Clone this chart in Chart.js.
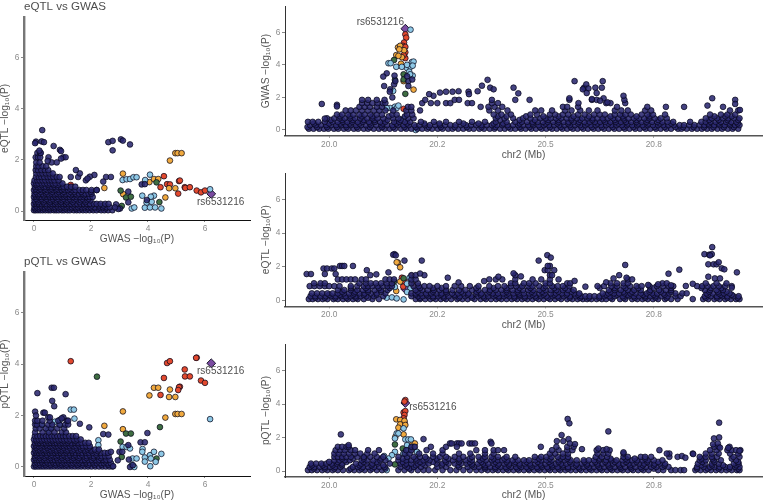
<!DOCTYPE html>
<html><head><meta charset="utf-8">
<script src="https://cdn.jsdelivr.net/npm/chart.js@4"></script>
<style>html,body{margin:0;padding:0;background:#fff;overflow:hidden}canvas{position:absolute}</style>
</head><body>
<canvas id="pA"></canvas><canvas id="pB"></canvas><canvas id="pC"></canvas><canvas id="pD"></canvas><canvas id="pE"></canvas>
<script>
// ---------- tick labels ----------
const scatterTicks=[0,2,4,6];
const yTicks=[0,2,4,6];
const posTicks=[20,20.25,20.5,20.75];
const posTickLabels=['20.0','20.2','20.5','20.8'];
const leadSnp='rs6531216';

// ---------- eQTL vs GWAS (x = GWAS, y = eQTL) ----------
// navy rows: [y, x, x, ...]
const aNavyRows=[
[.03,0,.06,.14,.22,.31,.4,.5,.58,.7,.78,.87,.98,1.06,1.17,1.26,1.4,1.5,1.6,1.72,1.83,1.95,2.08,2.2,2.36,2.47,2.6,2.75],
[.1,.04,.17,.35,.54,.73,.92,1.1,1.3,1.47,1.66,1.88,2.03,2.25,2.52],
[.15,.02,.1,.2,.28,.38,.47,.57,.66,.75,.85,.96,1.05,1.14,1.24,1.33,1.45,1.55,1.68,1.78,1.9,2.0,2.13,2.3,2.42,2.55,2.66],
[.22,.06,.24,.42,.6,.8,1.0,1.18,1.37,1.58,1.8,2.02,2.28,2.44],
[.28,0,.08,.17,.27,.36,.44,.55,.64,.74,.83,.93,1.02,1.12,1.22,1.31,1.42,1.52,1.63,1.75,1.86,1.97,2.1,2.2,2.34,2.5,2.62],
[.35,.05,.15,.33,.56,.77,.95,1.15,1.36,1.6,1.8],
[.42,.02,.12,.22,.3,.4,.5,.6,.7,.8,.9,1.0,1.1,1.2,1.3,1.42,1.53,1.65,1.77,1.88,1.98],
[.48,.07,.26,.44,.65,.84,1.04,1.25,1.47,1.7,1.92],
[.55,0,.08,.18,.26,.36,.46,.55,.66,.76,.86,.96,1.06,1.16,1.26,1.38,1.5,1.62,1.74,1.85,1.96,2.06],
[.62,.04,.15,.34,.52,.7,.9,1.08,1.3,1.52,1.76],
[.68,.02,.12,.2,.3,.42,.5,.62,.72,.82,.92,1.02,1.12,1.24,1.36,1.46,1.58,1.7,1.8,1.92,2.02],
[.75,.06,.24,.44,.64,.86,1.05,1.28,1.42,1.66,2.0],
[.82,0,.08,.17,.27,.37,.48,.58,.68,.78,.88,.98,1.08,1.2,1.34,1.46,1.6,1.72,1.84,2.02,2.2],
[.88,.05,.22,.4,.6,.8,1.02,1.25],
[.95,.03,.12,.22,.32,.42,.52,.62,.72,.84,.94,1.04,1.16,1.3,1.45],
[1.02,.07,.26,.5,.7,.85],
[1.08,0,.08,.16,.27,.36,.46,.56,.66,.76,.9,1.0],
[1.2,.02,.12,.2,.3,.4,.52,.62,.72,.86,1.82],
[1.33,.07,.17,.26,.36,.48,.58,.68,.8,.9,1.29,1.55,2.53,2.7],
[1.47,.08,.2,.3,.42,.54,.66,1.61],
[1.6,.06,.14,.26,.38,.5,1.47],
[1.75,.08,.16,.3,.43],
[1.9,.08,.2,.62,.8],
[2.1,.06,.14,.22,.51,1.03,1.11],
[2.27,.12,.21,.24]];
const aNavyExtra=[[.29,3.16],[.07,2.71],[.04,2.65],[.27,2.72],[.35,2.69],[.69,2.54],[.91,2.39],[.95,2.34],[.19,2.36],[.95,2.05],[.48,1.96],[2.61,2.69],[2.76,2.74],[2.76,2.37],[3.05,2.8],[3.12,2.75],[3.37,2.6],[2.12,1.41],[1.96,1.34],[1.88,1.27],[2.43,1.15],[3.31,.76],[3.31,.34],[3.02,.1],[2.96,.08],[2.2,.82],[3.78,1.04],[3.89,1.05],[3.96,.43],[2.88,.26],[2.84,.14]];
const aBlue=[[3.11,1.21],[3.25,1.24],[3.37,1.25],[3.49,1.32],[3.6,1.32],[3.9,1.21],[4.07,1.42],[3.8,.6],[3.95,.33],[4.13,.36],[4.21,.6],[4.1,.56],[3.89,.13],[4.07,.14],[4.25,.14],[4.47,.1],[3.43,.1],[3.52,.14],[6.18,.85],[2.29,.07],[1.38,.13],[.65,.07]];
const aGreen=[[3.04,.8],[3.23,.53],[3.4,.56],[3.08,.2],[4.3,1.12],[4.4,.35]];
const aOrange=[[3.12,1.46],[2.47,.9],[3.13,.66],[4.05,1.13],[4.21,1.25],[4.36,1.25],[4.96,2.26],[5.04,2.26],[5.18,2.26],[4.77,1.97],[4.74,.89],[4.96,.89],[4.61,.53]];
const aRed=[[1.29,1.02],[4.56,1.36],[4.44,.93],[4.67,1.05],[4.77,1.04],[5.09,1.17],[5.12,1.19],[5.29,.93],[5.31,.9],[5.47,.93],[5.06,.68],[5.71,.8],[5.86,.73],[6.0,.8]];
const aLead=[[6.22,.67]];

// ---------- pQTL vs GWAS ----------
const dNavyRows=[
[.02,0,.07,.16,.25,.34,.43,.53,.62,.72,.82,.92,1.02,1.12,1.22,1.33,1.44,1.55,1.66,1.78,1.9,2.02,2.15,2.28,2.4,2.52,2.64,2.75],
[.09,.05,.2,.4,.58,.76,.95,1.14,1.32,1.52,1.7,1.92,2.12,2.36,2.6],
[.15,.03,.12,.21,.3,.39,.48,.58,.68,.77,.87,.97,1.07,1.17,1.28,1.38,1.49,1.6,1.72,1.84,1.96,2.08,2.2,2.33,2.46,2.58,2.7],
[.22,.06,.26,.44,.64,.84,1.0,1.2,1.42,1.62,1.82,2.05,2.25,2.5],
[.28,0,.08,.17,.26,.35,.44,.54,.63,.73,.83,.93,1.03,1.13,1.23,1.34,1.45,1.56,1.67,1.79,1.91,2.03,2.16,2.29,2.42,2.54,2.66],
[.35,.04,.2,.38,.58,.8,.98,1.18,1.38,1.58,1.84,2.08,2.34],
[.42,.03,.12,.21,.3,.4,.49,.59,.68,.78,.88,.98,1.08,1.18,1.29,1.4,1.5,1.62,1.74,1.86,1.98,2.1,2.24,2.38,2.5,2.62],
[.48,.07,.25,.44,.62,.82,1.02,1.24,1.44,1.68,1.94,2.18],
[.55,0,.08,.17,.26,.36,.45,.55,.64,.74,.84,.94,1.04,1.14,1.25,1.36,1.47,1.58,1.7,1.82,1.94,2.06,2.2,2.34,2.48,2.6],
[.62,.05,.22,.41,.6,.78,.96,1.16,1.34,1.56,1.78,2.0,2.24],
[.68,.03,.12,.21,.31,.4,.5,.6,.7,.8,.9,1.0,1.1,1.2,1.31,1.42,1.53,1.65,1.77,1.89,2.0,2.14,2.28],
[.75,.07,.24,.46,.66,.86,1.04,1.26,1.48,1.7,1.93],
[.81,0,.08,.17,.26,.36,.46,.56,.65,.75,.85,.95,1.05,1.15,1.26,1.38,1.49,1.6,1.72,1.84,1.96],
[.88,.05,.27,.44,.68,.88,1.08,1.3,1.54],
[.94,.03,.12,.21,.31,.41,.5,.6,.7,.8,.9,1.0,1.1,1.2,1.32,1.44,1.55,1.67,1.8,1.92],
[1.01,.08,.25,.46,.64,.85,1.04,1.22,1.45],
[1.07,0,.08,.17,.27,.36,.46,.56,.66,.76,.86,.96,1.06,1.16,1.28,1.4,1.52,1.64],
[1.2,.03,.12,.22,.32,.42,.52,.62,.72,.82,.92,1.02,1.12,1.24,1.36,1.48],
[1.35,.04,.3,.52,.72,.98,1.12],
[1.5,.06,.2,.42,.6,.82,1.06],
[1.65,.04,.1,.28,.5,.64,.9,1.1,1.2],
[1.8,.04,.12,.3,.55,.85,1.15,1.2]];
const dNavyExtra=[[.12,2.87],[.62,3.08],[.7,3.08],[1.11,2.83],[.64,2.57],[.71,2.36],[.04,2.15],[.07,2.0],[.33,2.11],[.38,2.11],[.5,1.93],[.56,1.93],[1.03,1.93],[.97,1.89],[1.61,1.68],[1.94,1.54],[2.43,1.28],[2.61,1.26],[3.98,1.32],[3.74,.96],[3.89,.96],[3.31,.85],[3.0,.59],[3.1,.59],[2.7,.59],[2.94,.26],[3.33,.29],[3.37,0],[3.47,.07],[2.78,.03]];
const dBlue=[[1.29,2.23],[1.4,2.23],[1.42,1.88],[6.18,1.86],[.91,1.83],[.73,1.76],[.27,1.63],[.5,1.43],[.62,1.56],[.91,1.63],[2.26,1.04],[2.26,.85],[3.11,.78],[3.25,.78],[3.37,.72],[3.81,.7],[3.8,.59],[3.89,.37],[3.89,.21],[4.07,.46],[4.1,.33],[4.21,.59],[4.27,.2],[4.08,.03],[4.47,.51],[3.46,.33],[3.6,.33],[3.43,.07],[3.52,0]];
const dGreen=[[2.21,3.51],[3.04,.99],[3.23,1.3],[3.4,1.3],[4.42,1.55],[3.08,.39],[4.3,.33]];
const dOrange=[[3.12,2.16],[2.47,1.6],[3.12,1.47],[4.05,2.78],[4.21,3.08],[4.36,3.08],[4.77,3.01],[4.74,2.72],[4.96,2.72],[4.61,1.92],[4.96,2.06],[5.04,2.06],[5.18,2.06]];
const dRed=[[1.29,4.11],[4.67,4.04],[4.77,4.11],[5.71,4.25],[5.69,4.24],[5.29,3.79],[5.3,3.52],[5.47,3.52],[4.56,3.46],[5.86,3.36],[6.0,3.27],[5.12,3.12],[5.09,3.1],[5.06,2.99],[4.44,2.8]];
const dLead=[[6.22,4.03]];

// ---------- GWAS along chr2 (Mb) ----------
const bNavyRows=[
[.08,19.953,19.964,19.977,19.988,19.998,20.011,20.021,20.034,20.044,20.057,20.067,20.08,20.09,20.103,20.115,20.128,20.14,20.152,20.166,20.178,20.19,20.204,20.215,20.227,20.238,20.251,20.262,20.275,20.285,20.298,20.31,20.323,20.334,20.347,20.358,20.371,20.382,20.395,20.406,20.419,20.43,20.443,20.454,20.467,20.478,20.491,20.502,20.515,20.526,20.539,20.55,20.563,20.574,20.587,20.598,20.611,20.622,20.635,20.646,20.659,20.67,20.683,20.694,20.707,20.718,20.731,20.742,20.755,20.766,20.779,20.79,20.806,20.814,20.826,20.838,20.85,20.861,20.873,20.884,20.897,20.908,20.921,20.932,20.945],
[.18,19.95,19.972,19.995,20.018,20.04,20.064,20.094,20.122,20.148,20.174,20.2,20.23,20.258,20.29,20.318,20.352,20.384,20.414,20.44,20.463,20.487,20.51,20.535,20.558,20.583,20.607,20.63,20.655,20.68,20.703,20.727,20.752,20.775,20.8,20.818,20.842,20.866,20.888,20.912,20.935],
[.3,19.956,19.969,19.981,19.993,20.005,20.016,20.028,20.039,20.05,20.062,20.074,20.085,20.097,20.109,20.121,20.134,20.146,20.159,20.172,20.184,20.197,20.209,20.221,20.233,20.245,20.256,20.268,20.28,20.292,20.304,20.316,20.328,20.34,20.352,20.364,20.376,20.388,20.4,20.412,20.425,20.437,20.449,20.46,20.472,20.484,20.496,20.508,20.52,20.532,20.544,20.556,20.568,20.58,20.592,20.604,20.616,20.628,20.64,20.652,20.664,20.676,20.688,20.7,20.712,20.724,20.736,20.748,20.76,20.772,20.784,20.796,20.81,20.82,20.832,20.844,20.856,20.867,20.878,20.89,20.902,20.914,20.926,20.938,20.948],
[.4,19.965,20.0,20.026,20.048,20.07,20.094,20.124,20.156,20.18,20.22,20.255,20.31,20.345,20.38,20.402,20.44,20.47,20.5,20.527,20.552,20.575,20.596,20.62,20.645,20.668,20.69,20.714,20.738,20.764,20.79,20.876,20.9,20.925,20.944],
[.5,19.951,19.962,19.975,19.99,20.008,20.02,20.032,20.042,20.054,20.066,20.078,20.092,20.106,20.118,20.13,20.15,20.162,20.175,20.187,20.212,20.242,20.27,20.3,20.33,20.36,20.385,20.41,20.43,20.445,20.457,20.47,20.482,20.494,20.505,20.518,20.53,20.542,20.553,20.565,20.577,20.59,20.602,20.614,20.626,20.638,20.65,20.662,20.674,20.686,20.698,20.71,20.722,20.733,20.746,20.758,20.77,20.782,20.795,20.834,20.86,20.87,20.881,20.893,20.905,20.917,20.929,20.941],
[.62,20.004,20.03,20.055,20.08,20.105,20.135,20.165,20.395,20.44,20.475,20.506,20.53,20.56,20.58,20.608,20.634,20.66,20.682,20.71,20.735,20.76,20.878,20.9,20.92,20.945],
[.72,19.995,20.012,20.024,20.036,20.048,20.06,20.072,20.088,20.1,20.112,20.125,20.148,20.16,20.182,20.195,20.385,20.405,20.425,20.448,20.465,20.488,20.5,20.512,20.524,20.536,20.549,20.56,20.572,20.585,20.597,20.609,20.62,20.632,20.644,20.656,20.668,20.68,20.692,20.704,20.716,20.728,20.74,20.752,20.766,20.78,20.87,20.884,20.896,20.91,20.922,20.935,20.948],
[.84,20.025,20.048,20.075,20.1,20.138,20.175,20.39,20.41,20.455,20.495,20.53,20.565,20.6,20.65,20.678,20.71,20.74,20.89,20.915,20.93],
[.95,20.018,20.03,20.044,20.056,20.07,20.082,20.095,20.11,20.122,20.146,20.156,20.18,20.192,20.38,20.398,20.42,20.465,20.48,20.51,20.522,20.54,20.552,20.575,20.59,20.612,20.625,20.637,20.66,20.672,20.685,20.697,20.722,20.735,20.748,20.776,20.88,20.905,20.92,20.938],
[1.2,20.038,20.05,20.062,20.076,20.09,20.104,20.116,20.13,20.148,20.178,20.19,20.21,20.37,20.39,20.412,20.476,20.49,20.515,20.545,20.56,20.58,20.6,20.62,20.66,20.675,20.69,20.73,20.744,20.926,20.945],
[1.42,20.07,20.082,20.094,20.11,20.122,20.182,20.19,20.35,20.368,20.382,20.4,20.54,20.55,20.575,20.665,20.735,20.778,20.82,20.91],
[1.65,20.076,20.088,20.1,20.112,20.124,20.13,20.215,20.235,20.25,20.27,20.28,20.32,20.33,20.376,20.39,20.576,20.64,20.65,20.684],
[1.85,20.076,20.09,20.11,20.128,20.222,20.29,20.3,20.376,20.43,20.463,20.555,20.607,20.618,20.682]];
const bNavyExtra=[[19.983,1.6],[20.018,1.55],[20.018,1.45],[19.99,.7],[20.366,3.08],[20.353,2.72],[20.372,2.6],[20.38,2.5],[20.343,2.38],[20.322,2.35],[20.323,2.2],[20.299,2.38],[20.285,2.35],[20.27,2.35],[20.256,2.3],[20.241,2.1],[20.231,2.2],[20.133,3.48],[20.125,3.28],[20.151,3.34],[20.127,2.7],[20.141,2.5],[20.14,2.35],[20.15,2.8],[20.153,3.0],[20.183,3.0],[20.183,2.7],[20.18,3.3],[20.192,3.1],[20.146,2.0],[20.567,3.0],[20.632,3.0],[20.589,2.6],[20.594,2.8],[20.586,2.5],[20.599,2.55],[20.615,2.6],[20.63,2.6],[20.618,2.27],[20.595,2.27],[20.607,1.9],[20.634,1.95],[20.626,1.8],[20.643,1.7],[20.555,1.95],[20.68,2.1],[20.437,2.25],[20.426,2.6],[20.885,1.95],[20.874,1.5],[20.938,1.85],[20.938,1.6],[20.949,1.23]];
const bBlue=[[20.137,4.1],[20.142,4.1],[20.155,3.88],[20.168,3.88],[20.18,3.8],[20.191,4.17],[20.195,4.2],[20.188,3.88],[20.185,3.58],[20.193,3.34],[20.187,3.42],[20.188,6.16],[20.148,2.4],[20.141,1.35],[20.152,1.43],[20.156,1.35],[20.133,1.35],[20.172,.7],[20.2,0],[20.16,1.5],[20.18,4.0],[20.193,3.95]];
const bGreen=[[20.15,4.3],[20.152,3.08],[20.172,3.42],[20.172,3.1],[20.176,2.22]];
const bOrange=[[20.159,5.07],[20.164,5.17],[20.155,4.6],[20.166,4.07],[20.168,4.47],[20.173,4.9],[20.195,2.48],[20.172,3.0],[20.16,4.55],[20.162,4.95]];
const bRed=[[20.176,5.87],[20.178,5.67],[20.173,5.37],[20.17,5.17],[20.176,4.77],[20.174,4.47],[20.176,4.41],[20.172,1.3],[20.176,5.1],[20.172,4.6]];
const bLead=[[20.176,6.22]];

// ---------- eQTL along chr2 ----------
const cNavyRows=[
[.08,19.953,19.962,19.974,19.985,19.996,20.01,20.02,20.032,20.043,20.055,20.066,20.08,20.1,20.115,20.2,20.21,20.222,20.234,20.246,20.258,20.27,20.282,20.296,20.308,20.32,20.336,20.35,20.362,20.374,20.386,20.398,20.41,20.422,20.434,20.446,20.458,20.47,20.484,20.496,20.51,20.522,20.536,20.55,20.562,20.574,20.586,20.596,20.606,20.618,20.63,20.64,20.654,20.672,20.684,20.7,20.712,20.724,20.736,20.748,20.76,20.776,20.79,20.805,20.84,20.864,20.876,20.89,20.902,20.915,20.928,20.94,20.948],
[.16,19.968,19.99,20.014,20.04,20.062,20.09,20.21,20.24,20.265,20.3,20.33,20.358,20.392,20.428,20.452,20.478,20.505,20.53,20.556,20.58,20.6,20.624,20.65,20.68,20.706,20.73,20.754,20.78,20.87,20.896,20.92,20.944],
[.25,19.957,19.968,19.98,19.992,20.004,20.015,20.027,20.038,20.05,20.061,20.073,20.086,20.103,20.125,20.19,20.205,20.216,20.228,20.24,20.252,20.264,20.276,20.29,20.302,20.314,20.328,20.344,20.356,20.368,20.38,20.392,20.404,20.416,20.428,20.44,20.452,20.464,20.476,20.49,20.502,20.516,20.528,20.542,20.556,20.57,20.582,20.592,20.602,20.613,20.625,20.636,20.648,20.66,20.678,20.692,20.704,20.716,20.73,20.742,20.754,20.768,20.782,20.8,20.812,20.868,20.882,20.896,20.908,20.92,20.934,20.946],
[.34,20.0,20.025,20.055,20.08,20.11,20.2,20.225,20.258,20.29,20.32,20.35,20.385,20.41,20.44,20.47,20.495,20.52,20.548,20.575,20.64,20.665,20.69,20.725,20.75,20.775,20.875,20.905,20.93],
[.42,19.96,19.972,19.984,19.996,20.008,20.02,20.034,20.046,20.058,20.07,20.082,20.096,20.11,20.13,20.19,20.2,20.212,20.224,20.236,20.248,20.26,20.272,20.284,20.298,20.31,20.322,20.34,20.352,20.366,20.378,20.39,20.402,20.414,20.426,20.438,20.45,20.462,20.474,20.486,20.498,20.512,20.524,20.538,20.55,20.566,20.578,20.632,20.645,20.658,20.67,20.682,20.696,20.708,20.72,20.734,20.746,20.758,20.772,20.786,20.8,20.816,20.826,20.872,20.886,20.9,20.912,20.925],
[.52,20.03,20.06,20.09,20.12,20.205,20.24,20.27,20.305,20.34,20.37,20.41,20.435,20.468,20.492,20.53,20.56,20.65,20.68,20.7,20.74,20.766,20.79,20.878,20.898,20.918],
[.62,20.02,20.035,20.05,20.065,20.078,20.09,20.105,20.12,20.135,20.2,20.215,20.228,20.242,20.255,20.27,20.285,20.3,20.315,20.33,20.345,20.36,20.372,20.385,20.398,20.41,20.424,20.436,20.448,20.46,20.472,20.486,20.5,20.512,20.525,20.54,20.552,20.565,20.646,20.66,20.674,20.69,20.705,20.72,20.742,20.762,20.778,20.79,20.868,20.88,20.895,20.91],
[.74,20.05,20.085,20.115,20.14,20.21,20.24,20.26,20.34,20.38,20.41,20.44,20.465,20.495,20.52,20.545,20.625,20.66,20.685,20.714,20.75,20.79,20.86,20.882,20.906],
[.85,19.955,19.966,19.978,19.99,20.0,20.012,20.024,20.05,20.065,20.08,20.09,20.1,20.112,20.124,20.135,20.145,20.195,20.207,20.22,20.232,20.25,20.27,20.29,20.305,20.325,20.345,20.37,20.39,20.405,20.42,20.432,20.446,20.46,20.47,20.485,20.5,20.515,20.528,20.54,20.555,20.62,20.635,20.652,20.665,20.68,20.695,20.71,20.722,20.74,20.757,20.772,20.784,20.795,20.85,20.862,20.874,20.888,20.9,20.915,20.93],
[1.02,19.965,19.98,19.99,20.07,20.085,20.096,20.108,20.12,20.133,20.145,20.19,20.205,20.42,20.43,20.45,20.462,20.477,20.5,20.51,20.55,20.557,20.65,20.665,20.68,20.69,20.77,20.78,20.87,20.895],
[1.25,20.02,20.03,20.04,20.05,20.06,20.075,20.085,20.13,20.14,20.15,20.19,20.2,20.37,20.385,20.4,20.43,20.47,20.49,20.51,20.53,20.69,20.7],
[1.5,20.095,20.19,20.2,20.22,20.43,20.51,20.515,20.67],
[1.8,20.087,20.498,20.505,20.52],
[2.05,20.025,20.03,20.035,20.055,20.51,20.505]];
const cNavyExtra=[[19.948,1.57],[19.958,1.57],[19.987,1.9],[19.99,1.57],[19.995,1.9],[20.006,1.9],[20.012,1.9],[20.015,1.57],[20.109,1.55],[20.137,1.67],[20.151,2.75],[20.148,2.72],[20.154,2.68],[20.174,2.37],[20.214,2.37],[20.21,1.6],[20.274,1.35],[20.299,1.07],[20.358,1.15],[20.391,1.41],[20.504,2.69],[20.512,2.55],[20.484,2.37],[20.426,1.61],[20.443,1.43],[20.567,1.16],[20.592,.82],[20.64,1.08],[20.657,1.31],[20.684,2.11],[20.687,1.35],[20.76,.96],[20.737,.92],[20.784,1.59],[20.809,1.83],[20.79,.9],[20.824,.86],[20.84,.99],[20.885,3.17],[20.867,2.75],[20.878,2.72],[20.884,2.75],[20.88,2.68],[20.876,2.15],[20.888,2.15],[20.895,2.15],[20.9,2.27],[20.907,1.91],[20.913,1.85],[20.876,1.41],[20.891,1.31],[20.903,1.31],[20.918,1.02],[20.942,1.67],[20.93,.76]];
const cBlue=[[20.186,1.35],[20.18,1.0],[20.133,.16],[20.145,.18],[20.156,.12],[20.172,.06],[20.152,.8],[20.188,.72],[20.18,.5],[20.203,.5]];
const cGreen=[[20.15,1.12],[20.172,1.32]];
const cOrange=[[20.191,1.47],[20.164,1.12],[20.195,.92],[20.155,.56],[20.159,2.25],[20.164,1.97],[20.156,2.27]];
const cRed=[[20.168,1.35],[20.172,1.02],[20.174,1.12],[20.171,.82]];
const cLead=[[20.176,.67]];

// ---------- pQTL along chr2 ----------
const eNavyRows=[
[.06,19.951,19.96,19.972,19.984,19.996,20.008,20.02,20.032,20.046,20.058,20.07,20.082,20.095,20.11,20.122,20.16,20.174,20.19,20.205,20.218,20.23,20.245,20.262,20.28,20.294,20.31,20.325,20.34,20.352,20.366,20.378,20.39,20.402,20.414,20.426,20.438,20.45,20.462,20.474,20.486,20.498,20.51,20.522,20.534,20.546,20.558,20.57,20.582,20.594,20.606,20.618,20.63,20.642,20.654,20.666,20.678,20.69,20.702,20.714,20.726,20.738,20.76,20.772,20.79,20.8,20.812,20.82,20.846,20.858,20.87,20.882,20.894,20.906,20.918,20.93,20.942,20.948],
[.15,19.965,19.99,20.012,20.05,20.075,20.1,20.13,20.185,20.36,20.384,20.41,20.435,20.46,20.482,20.506,20.53,20.552,20.578,20.602,20.626,20.65,20.674,20.698,20.722,20.75,20.85,20.875,20.9,20.924,20.945],
[.25,19.955,19.966,19.978,19.99,20.002,20.014,20.026,20.055,20.066,20.078,20.09,20.104,20.116,20.128,20.165,20.18,20.196,20.212,20.25,20.27,20.3,20.32,20.335,20.346,20.36,20.372,20.384,20.396,20.408,20.42,20.432,20.444,20.456,20.468,20.48,20.492,20.504,20.516,20.528,20.54,20.552,20.564,20.576,20.588,20.6,20.612,20.624,20.636,20.648,20.66,20.672,20.684,20.696,20.708,20.72,20.732,20.744,20.756,20.77,20.784,20.85,20.865,20.88,20.89,20.902,20.915,20.926,20.938,20.948],
[.35,19.96,19.985,20.008,20.03,20.07,20.098,20.125,20.175,20.2,20.222,20.26,20.298,20.33,20.36,20.39,20.415,20.44,20.465,20.49,20.515,20.54,20.57,20.595,20.62,20.645,20.67,20.695,20.725,20.75,20.775,20.86,20.885,20.91,20.94],
[.45,19.958,19.97,19.982,19.994,20.006,20.018,20.03,20.062,20.074,20.086,20.1,20.112,20.14,20.165,20.178,20.19,20.205,20.216,20.23,20.248,20.262,20.276,20.29,20.305,20.318,20.33,20.344,20.356,20.368,20.38,20.392,20.404,20.416,20.428,20.44,20.452,20.464,20.476,20.488,20.5,20.512,20.524,20.536,20.548,20.56,20.572,20.584,20.596,20.608,20.62,20.632,20.644,20.656,20.668,20.68,20.692,20.704,20.716,20.728,20.74,20.752,20.764,20.776,20.852,20.868,20.884,20.9,20.935,20.946],
[.55,20.0,20.02,20.04,20.08,20.11,20.17,20.21,20.24,20.27,20.3,20.325,20.352,20.384,20.41,20.43,20.456,20.482,20.508,20.53,20.556,20.59,20.615,20.638,20.66,20.686,20.71,20.735,20.76,20.862,20.89,20.945],
[.65,20.012,20.024,20.036,20.048,20.075,20.088,20.102,20.118,20.13,20.16,20.178,20.19,20.202,20.218,20.232,20.25,20.268,20.286,20.302,20.316,20.33,20.348,20.362,20.376,20.39,20.4,20.412,20.424,20.436,20.45,20.462,20.476,20.49,20.502,20.514,20.53,20.544,20.558,20.572,20.588,20.6,20.612,20.624,20.64,20.652,20.664,20.678,20.69,20.7,20.712,20.724,20.736,20.75,20.77,20.856,20.87,20.888,20.905,20.94],
[.75,20.03,20.055,20.08,20.12,20.17,20.2,20.225,20.248,20.275,20.3,20.325,20.355,20.38,20.405,20.485,20.51,20.535,20.55,20.625,20.65,20.685,20.706,20.73,20.86,20.885,20.93],
[.85,20.012,20.02,20.03,20.04,20.05,20.065,20.08,20.095,20.11,20.125,20.16,20.18,20.195,20.21,20.222,20.24,20.256,20.27,20.29,20.31,20.33,20.345,20.36,20.375,20.39,20.41,20.43,20.475,20.49,20.502,20.514,20.528,20.54,20.552,20.616,20.63,20.642,20.68,20.69,20.72,20.73,20.744,20.786,20.856,20.87,20.884,20.896,20.934,20.948],
[1.05,20.012,20.022,20.034,20.046,20.06,20.072,20.088,20.105,20.175,20.186,20.208,20.24,20.262,20.3,20.326,20.36,20.38,20.51,20.522,20.54,20.552,20.62,20.634,20.645,20.68,20.786,20.78,20.84,20.87,20.884,20.9,20.926,20.945],
[1.25,20.015,20.025,20.036,20.05,20.06,20.09,20.115,20.178,20.19,20.225,20.262,20.34,20.36,20.38,20.39,20.404,20.515,20.53,20.55,20.562,20.618,20.633,20.648,20.763,20.88,20.895,20.92,20.93,20.94,20.95],
[1.45,20.02,20.03,20.04,20.045,20.19,20.198,20.235,20.27,20.489,20.525,20.55,20.565,20.89,20.9,20.925]];
const eNavyExtra=[[20.027,2.19],[20.045,1.55],[20.218,1.91],[20.279,1.65],[20.283,1.65],[20.295,1.65],[20.3,1.65],[20.306,1.65],[20.324,1.65],[20.33,1.65],[20.337,1.65],[20.295,1.45],[20.373,1.75],[20.375,1.65],[20.551,3.11],[20.555,2.85],[20.537,2.15],[20.645,2.37],[20.901,2.89],[20.901,2.01],[20.889,1.95],[20.887,1.6],[20.898,1.65],[20.903,1.4],[20.526,1.79],[20.541,1.79],[20.553,1.91],[20.556,1.65],[20.568,1.61],[20.584,1.31],[20.622,1.35],[20.641,1.31],[20.68,1.12],[20.805,.85],[20.815,.9],[20.823,.8],[20.841,1.02],[20.922,1.39],[20.948,1.21]];
const eBlue=[[20.172,2.55],[20.156,2.25],[20.16,2.25],[20.152,1.95],[20.176,1.89],[20.183,1.89],[20.189,1.89],[20.18,1.55],[20.195,1.45],[20.183,1.25],[20.152,1.15],[20.145,.95],[20.137,.75],[20.133,.06],[20.172,1.05],[20.18,.75],[20.183,.45],[20.195,.25],[20.203,1.15],[20.127,.9]];
const eGreen=[[20.152,1.59],[20.17,1.35],[20.172,1.05],[20.152,.4],[20.08,.85]];
const eOrange=[[20.155,3.09],[20.164,3.05],[20.174,3.0],[20.164,2.79],[20.176,2.75],[20.16,2.59],[20.172,2.19],[20.153,2.05],[20.193,1.65],[20.198,1.65],[20.196,1.35]];
const eRed=[[20.176,4.24],[20.174,4.15],[20.172,3.5],[20.176,3.58],[20.174,3.35],[20.17,3.0],[20.174,2.92],[20.172,3.15]];
const eLead=[[20.176,4.06]];

// ---------- styles ----------
const COL={navy:'rgba(42,40,112,.88)',blue:'#8ec8e6',green:'#3f6e42',orange:'#f0a93e',red:'#e2492e',lead:'#7a4ba0'};
const FONT='"Liberation Sans",Arial,sans-serif';

function fromRows(rows){
  const out=[];
  rows.forEach(r=>{for(let i=1;i<r.length;i++)out.push({x:r[i],y:r[0]});});
  return out;
}
const pts=a=>a.map(p=>({x:p[0],y:p[1]}));
function ds(data,color,lead){
  return {data,backgroundColor:color,borderColor:'rgba(5,5,25,.9)',borderWidth:lead?1:.8,
    pointRadius:lead?4.4:2.85,pointHoverRadius:lead?4.4:2.85,pointStyle:lead?'rectRot':'circle',showLine:false};
}
const leadLabel={id:'leadLabel',afterDatasetsDraw(chart,a,o){
  if(!o.show)return;
  const c=chart.ctx,p=chart.getDatasetMeta(chart.data.datasets.length-1).data[0];
  c.save();c.font='10px '+FONT;c.fillStyle='#4f4f4f';c.textAlign='center';c.textBaseline='middle';
  c.fillText(leadSnp,p.x+o.dx,p.y+o.dy);c.restore();
}};
function make(id,cfg){
  const el=document.getElementById(id);
  el.width=cfg.w;el.height=cfg.h;
  el.style.left=cfg.left+'px';el.style.top=cfg.top+'px';
  el.style.width=cfg.w+'px';el.style.height=cfg.h+'px';
  const d=cfg.data;
  new Chart(el,{type:'scatter',
    data:{datasets:[
      ds(fromRows(d.rows).concat(pts(d.extra)),COL.navy),
      ds(pts(d.blue),COL.blue),ds(pts(d.green),COL.green),ds(pts(d.orange),COL.orange),ds(pts(d.red),COL.red),
      ds(pts(d.lead),COL.lead,true)]},
    plugins:[leadLabel],
    options:{responsive:false,animation:false,devicePixelRatio:1,events:[],
      layout:{autoPadding:false,padding:{top:cfg.padTop,right:cfg.padRight,left:0,bottom:0}},
      plugins:{legend:{display:false},tooltip:{enabled:false},
        leadLabel:{show:cfg.dx!==null,dx:cfg.dx,dy:cfg.dy},
        title:{display:!!cfg.title,text:cfg.title,align:'start',fullSize:false,color:'#4d4d4d',
          font:{family:FONT,size:11.6,weight:'normal'},padding:{top:0,bottom:3}}},
      scales:{
        x:{type:'linear',min:cfg.xmin,max:cfg.xmax,
          afterBuildTicks:s=>{s.ticks=cfg.xticks.map(v=>({value:v}));},
          afterFit:s=>{s.height=cfg.xH;},
          border:{display:true,color:cfg.xBorder,width:cfg.xBW},
          grid:{display:true,drawOnChartArea:false,drawTicks:true,tickLength:2,tickColor:'#555',tickWidth:.7},
          ticks:{color:'#8c8c8c',font:{family:FONT,size:8.4},padding:1.5,maxRotation:0,autoSkip:false,
            callback:cfg.xlabel||(v=>String(v))},
          title:{display:true,text:cfg.xTitle,color:'#555',font:{family:FONT,size:10.2},padding:0}},
        y:{type:'linear',min:-.35,max:7.58,
          afterBuildTicks:s=>{s.ticks=yTicks.map(v=>({value:v}));},
          afterFit:s=>{s.width=cfg.yW;},
          border:{display:true,color:cfg.yBorder,width:cfg.yBW},
          grid:{display:true,drawOnChartArea:false,drawTicks:true,tickLength:3,tickColor:'#555',tickWidth:.7},
          ticks:{color:'#8c8c8c',font:{family:FONT,size:8.4},padding:1.5,autoSkip:false,callback:v=>String(v)},
          title:{display:true,text:cfg.yTitle,color:'#555',font:{family:FONT,size:10.2},padding:0}}
      }}});
}
const posLabel=(v)=>{const i=posTicks.indexOf(v);return i<0?'':posTickLabels[i];};
const GW='GWAS \u2212log\u2081\u2080(P)',EQ='eQTL \u2212log\u2081\u2080(P)',PQ='pQTL \u2212log\u2081\u2080(P)';
const leftA={left:-1,w:253,yW:25,padRight:2,xmin:-.35,xmax:7.58,xticks:scatterTicks,xBorder:'#111',xBW:1,yBorder:'#777',yBW:2.4};
const right={left:260,w:503,yW:25,padRight:1,xmin:19.898,xmax:21.0,xticks:posTicks,xlabel:posLabel,xTitle:'chr2 (Mb)',xBorder:'#555',xBW:1.4,yBorder:'#333',yBW:1};
make('pA',{...leftA,top:0,h:245,padTop:0,xH:25,title:'eQTL vs GWAS',xTitle:GW,yTitle:EQ,dx:9.4,dy:8,
  data:{rows:aNavyRows,extra:aNavyExtra,blue:aBlue,green:aGreen,orange:aOrange,red:aRed,lead:aLead}});
make('pD',{...leftA,top:255,h:246,padTop:0,xH:25,title:'pQTL vs GWAS',xTitle:GW,yTitle:PQ,dx:9.4,dy:8,
  data:{rows:dNavyRows,extra:dNavyExtra,blue:dBlue,green:dGreen,orange:dOrange,red:dRed,lead:dLead}});
make('pB',{...right,top:0,h:161,padTop:2.5,xH:25.3,yTitle:GW,dx:-25,dy:-6.5,
  data:{rows:bNavyRows,extra:bNavyExtra,blue:bBlue,green:bGreen,orange:bOrange,red:bRed,lead:bLead}});
make('pC',{...right,top:165,h:166,padTop:8,xH:24.7,yTitle:EQ,dx:null,dy:0,
  data:{rows:cNavyRows,extra:cNavyExtra,blue:cBlue,green:cGreen,orange:cOrange,red:cRed,lead:cLead}});
make('pE',{...right,top:335,h:166,padTop:9,xH:24,yTitle:PQ,dx:27.5,dy:4,
  data:{rows:eNavyRows,extra:eNavyExtra,blue:eBlue,green:eGreen,orange:eOrange,red:eRed,lead:eLead}});
</script>
</body></html>
